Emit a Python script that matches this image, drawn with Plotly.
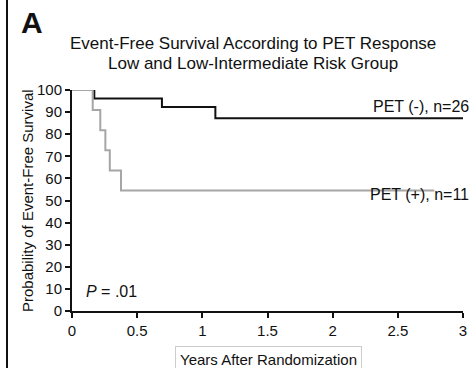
import plotly.graph_objects as go

neg_years = [0, 0.171, 0.69, 1.10, 3.0]
neg_surv = [100, 96.2, 92.3, 87.2, 87.2]
pos_years = [0, 0.159, 0.217, 0.256, 0.29, 0.376, 2.78]
pos_surv = [100, 90.9, 81.8, 72.7, 63.6, 54.5, 54.5]

x_ticks = [0, 0.5, 1, 1.5, 2, 2.5, 3]
x_tick_labels = ["0", "0.5", "1", "1.5", "2", "2.5", "3"]
y_ticks = list(range(0, 101, 10))

FONT = "Liberation Sans, Arial, Helvetica, sans-serif"

fig = go.Figure()
fig.add_trace(go.Scatter(x=neg_years, y=neg_surv, mode="lines", line_shape="hv",
                         line=dict(color="#111111", width=2), showlegend=False))
fig.add_trace(go.Scatter(x=pos_years, y=pos_surv, mode="lines", line_shape="hv",
                         line=dict(color="#a6a6a6", width=2), showlegend=False))

W, H = 475, 368
L, R, T, B = 72, 12, 90, 57
pw = W - L - R
ph = H - T - B

def px(xp):
    return (xp - L) / pw

def py(yp):
    return (H - B - yp) / ph

fig.update_layout(
    width=W, height=H,
    margin=dict(l=L, r=R, t=T, b=B, autoexpand=False),
    paper_bgcolor="white", plot_bgcolor="white",
    font=dict(family=FONT, color="#111111", size=15),
    xaxis=dict(range=[0, 3], tickvals=x_ticks, ticktext=x_tick_labels,
               showline=True, linecolor="#111111", linewidth=2,
               ticks="outside", ticklen=5, tickwidth=1.5, tickcolor="#111111",
               showgrid=False, zeroline=False, tickfont=dict(size=15)),
    yaxis=dict(range=[0, 100], tickvals=y_ticks,
               showline=True, linecolor="#111111", linewidth=2,
               ticks="outside", ticklen=5, tickwidth=1.5, tickcolor="#111111",
               showgrid=False, zeroline=False, tickfont=dict(size=15)),
)

annotations = [
    dict(text="<b>A</b>", x=px(19), y=py(22), xanchor="left", yanchor="middle",
         font=dict(size=30)),
    dict(text="Event-Free Survival According to PET Response", x=px(253), y=py(43),
         xanchor="center", yanchor="middle", font=dict(size=17)),
    dict(text="Low and Low-Intermediate Risk Group", x=px(253), y=py(63),
         xanchor="center", yanchor="middle", font=dict(size=17)),
    dict(text="Probability of Event-Free Survival", x=px(27), y=py(201),
         xanchor="center", yanchor="middle", textangle=-90, font=dict(size=15)),
    dict(text="PET (-), n=26", x=px(471), y=py(107), xanchor="right", yanchor="middle",
         font=dict(size=16)),
    dict(text="PET (+), n=11", x=px(471), y=py(194), xanchor="right", yanchor="middle",
         font=dict(size=16)),
    dict(text="<i>P</i> = .01", x=px(84), y=py(291), xanchor="left", yanchor="middle",
         font=dict(size=16)),
    dict(text="Years After Randomization", x=px(268), y=py(359), xanchor="center",
         yanchor="middle", font=dict(size=15), bordercolor="#cccccc", borderwidth=1,
         borderpad=4, bgcolor="white"),
]
for a in annotations:
    a.update(xref="paper", yref="paper", showarrow=False)
fig.update_layout(annotations=annotations)

fig.add_shape(type="line", xref="paper", yref="paper",
              x0=px(7), x1=px(7), y0=py(0), y1=py(H), line=dict(color="#111111", width=2))

fig.write_html("out.html", config={"displayModeBar": False},
               post_script="document.body.style.margin='0';document.body.style.overflow='hidden';")
